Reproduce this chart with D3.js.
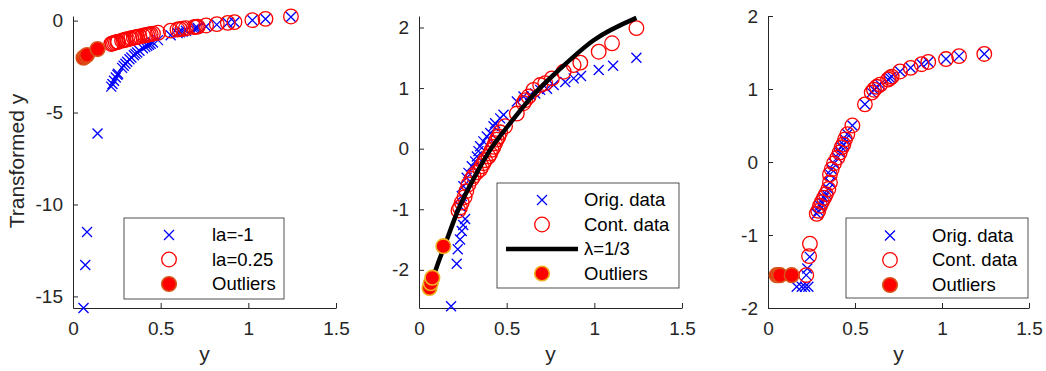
<!doctype html>
<html lang="en">
<head>
  <meta charset="utf-8">
  <title>Box-Cox panels - D3</title>
  <style>
    body { margin: 0; background: #fff; }
    svg { display: block; font-family: "Liberation Sans", Arial, sans-serif; }
  </style>
</head>
<body>
  <svg id="chart"></svg>

  <script src="https://cdn.jsdelivr.net/npm/d3@7"></script>
  <script>
    // ---- data: [y, transformed y] ----
    // panel 1: contaminated data, la = -1
    var p1LaM1 = [[1.243,0.195],[1.098,0.089],[1.023,0.022],[0.921,-0.086],[0.883,-0.133],[0.82,-0.22],
      [0.759,-0.318],[0.711,-0.406],[0.701,-0.427],[0.69,-0.449],[0.644,-0.553],[0.625,-0.6],[0.609,-0.642],
      [0.596,-0.678],[0.557,-0.795],[0.485,-1.062],[0.456,-1.193],[0.443,-1.257],[0.433,-1.309],[0.423,-1.364],
      [0.412,-1.427],[0.399,-1.506],[0.379,-1.639],[0.366,-1.732],[0.356,-1.809],[0.347,-1.882],[0.333,-2.003],
      [0.322,-2.106],[0.309,-2.236],[0.299,-2.344],[0.289,-2.46],[0.28,-2.571],[0.257,-2.891],[0.253,-2.953],
      [0.244,-3.098],[0.234,-3.274],[0.225,-3.444],[0.218,-3.59],
      [0.14,-6.14],[0.08,-11.5],[0.07,-13.29],[0.06,-15.63]];
    // panel 1: la = 0.25
    var p1La025 = [[1.243,0.224],[1.098,0.095],[1.023,0.023],[0.921,-0.082],[0.883,-0.122],[0.82,-0.194],
      [0.759,-0.266],[0.711,-0.327],[0.701,-0.34],[0.69,-0.354],[0.644,-0.417],[0.625,-0.444],[0.609,-0.466],
      [0.596,-0.486],[0.557,-0.544],[0.485,-0.662],[0.456,-0.713],[0.443,-0.737],[0.433,-0.755],[0.423,-0.774],
      [0.412,-0.795],[0.399,-0.821],[0.379,-0.862],[0.366,-0.889],[0.356,-0.91],[0.347,-0.93],[0.333,-0.962],
      [0.322,-0.987],[0.309,-1.018],[0.299,-1.042],[0.289,-1.067],[0.28,-1.09],[0.257,-1.152],[0.253,-1.163],
      [0.244,-1.189],[0.234,-1.218],[0.225,-1.245],[0.218,-1.27]];
    var p1Outliers = [[0.06,-2.02],[0.07,-1.94],[0.08,-1.87],[0.14,-1.55]];

    // panel 2
    var p2Orig = [[1.24,1.5],[1.107,1.37],[1.025,1.3],[0.924,1.2],[0.882,1.16],[0.834,1.1],[0.768,1.05],
      [0.73,0.99],[0.691,0.97],[0.663,0.91],[0.634,0.89],[0.596,0.86],[0.558,0.78],[0.482,0.56],[0.463,0.5],
      [0.434,0.42],[0.425,0.37],[0.406,0.26],[0.387,0.2],[0.367,0.12],[0.349,0.04],[0.339,-0.04],[0.33,-0.13],
      [0.32,-0.21],[0.301,-0.29],[0.282,-0.4],[0.272,-0.48],[0.253,-0.62],[0.244,-0.78],[0.234,-0.95],
      [0.263,-1.16],[0.252,-1.26],[0.244,-1.36],[0.234,-1.5],[0.221,-1.66],[0.215,-1.9],[0.183,-2.6]];
    var p2Cont = [[1.24,1.99],[1.101,1.74],[1.025,1.6],[0.92,1.42],[0.882,1.38],[0.825,1.27],[0.758,1.16],
      [0.72,1.08],[0.691,1.05],[0.653,0.97],[0.625,0.86],[0.606,0.8],[0.596,0.75],[0.558,0.58],[0.491,0.37],
      [0.463,0.27],[0.453,0.2],[0.443,0.15],[0.434,0.09],[0.425,0.03],[0.415,-0.02],[0.406,-0.08],[0.396,-0.13],
      [0.377,-0.19],[0.368,-0.24],[0.358,-0.29],[0.349,-0.34],[0.33,-0.39],[0.311,-0.45],[0.301,-0.5],
      [0.282,-0.59],[0.27,-0.7],[0.26,-0.8],[0.244,-0.89],[0.234,-0.97],[0.225,-1.02]];
    var p2Fit = [[0.063,-2.31],[0.072,-2.2],[0.1,-1.96],[0.145,-1.61],[0.225,-1.0],[0.32,-0.45],[0.406,-0.02],
      [0.52,0.42],[0.653,0.89],[0.806,1.32],[0.996,1.79],[1.24,2.16]];
    var p2Outliers = [[0.06,-2.3],[0.067,-2.22],[0.076,-2.13],[0.139,-1.61]];

    // panel 3
    var p3Orig = [[1.243,1.48],[1.098,1.45],[1.023,1.41],[0.921,1.37],[0.883,1.34],[0.82,1.29],[0.759,1.24],
      [0.711,1.17],[0.701,1.15],[0.69,1.13],[0.644,1.06],[0.625,1.03],[0.609,0.99],[0.596,0.95],[0.557,0.79],
      [0.485,0.5],[0.456,0.38],[0.443,0.31],[0.433,0.24],[0.423,0.2],[0.412,0.13],[0.399,0.06],[0.379,-0.02],
      [0.366,-0.1],[0.356,-0.17],[0.356,-0.28],[0.347,-0.37],[0.333,-0.44],[0.322,-0.49],[0.309,-0.55],
      [0.299,-0.6],[0.289,-0.67],[0.28,-0.71],[0.24,-1.3],[0.226,-1.46],[0.22,-1.55],
      [0.165,-1.71],[0.194,-1.71],[0.213,-1.71],[0.232,-1.71]];
    var p3Cont = [[1.243,1.48],[1.098,1.45],[1.023,1.41],[0.921,1.37],[0.883,1.34],[0.82,1.29],[0.759,1.24],
      [0.711,1.17],[0.701,1.15],[0.69,1.13],[0.644,1.06],[0.625,1.03],[0.609,0.99],[0.596,0.95],[0.557,0.79],
      [0.485,0.5],[0.456,0.38],[0.443,0.31],[0.433,0.24],[0.423,0.2],[0.412,0.13],[0.399,0.06],[0.379,-0.02],
      [0.366,-0.1],[0.356,-0.17],[0.356,-0.28],[0.347,-0.37],[0.333,-0.44],[0.322,-0.49],[0.309,-0.55],
      [0.299,-0.6],[0.289,-0.67],[0.28,-0.71],[0.241,-1.12],[0.236,-1.29],[0.22,-1.55]];
    var p3Outliers = [[0.05,-1.55],[0.06,-1.55],[0.069,-1.55],[0.136,-1.55]];

    var xTicks = [0, 0.5, 1, 1.5];
    var p1YTicks = [-15, -10, -5, 0];
    var p23YTicks = [-2, -1, 0, 1, 2];

    // ---- canvas ----
    var width = 1046, height = 371;
    var axisColor = '#262626';
    var font = '"Liberation Sans", Arial, sans-serif';
    var svg = d3.select('#chart').attr('width', width).attr('height', height);

    function xMark(g, pts, x, y) {
      var s = 5;
      g.selectAll(null).data(pts).enter().append('path')
        .attr('d', function (d) {
          var cx = x(d[0]), cy = y(d[1]);
          return 'M' + (cx - s) + ',' + (cy - s) + 'L' + (cx + s) + ',' + (cy + s) +
                 'M' + (cx - s) + ',' + (cy + s) + 'L' + (cx + s) + ',' + (cy - s);
        })
        .attr('stroke', '#0000ff').attr('stroke-width', 1.3).attr('fill', 'none');
    }
    function circleMark(g, pts, x, y) {
      g.selectAll(null).data(pts).enter().append('circle')
        .attr('cx', function (d) { return x(d[0]); })
        .attr('cy', function (d) { return y(d[1]); })
        .attr('r', 7.3)
        .attr('fill', 'none').attr('stroke', '#ff0000').attr('stroke-width', 1.3);
    }
    function filledMark(g, pts, x, y, edge) {
      g.selectAll(null).data(pts).enter().append('circle')
        .attr('cx', function (d) { return x(d[0]); })
        .attr('cy', function (d) { return y(d[1]); })
        .attr('r', 7.3)
        .attr('fill', '#ff0000').attr('stroke', edge).attr('stroke-width', 1.6);
    }

    function drawPanel(cfg) {
      var x = d3.scaleLinear().domain([0, 1.5]).range(cfg.xr);
      var y = d3.scaleLinear().domain(cfg.yd).range([308, 16]);
      var g = svg.append('g');

      // axes (box off, ticks inward)
      var ax = g.append('g').attr('transform', 'translate(0,308)')
        .call(d3.axisBottom(x).tickValues(xTicks).tickSizeInner(-5).tickSizeOuter(0)
          .tickPadding(14).tickFormat(function (d) { return String(d); }));
      var ay = g.append('g').attr('transform', 'translate(' + cfg.xr[0] + ',0)')
        .call(d3.axisLeft(y).tickValues(cfg.yTicks).tickSizeInner(-5).tickSizeOuter(0)
          .tickPadding(10).tickFormat(function (d) { return String(d); }));
      [ax, ay].forEach(function (a) {
        a.attr('font-family', font).attr('font-size', 19);
        a.selectAll('path,line').attr('stroke', axisColor);
        a.selectAll('text').attr('fill', axisColor);
      });

      g.append('text').text('y')
        .attr('x', (cfg.xr[0] + cfg.xr[1]) / 2).attr('y', 361)
        .attr('text-anchor', 'middle').attr('font-size', 21).attr('fill', axisColor);

      // marks
      var m = g.append('g');
      cfg.series.forEach(function (s) {
        if (s.kind === 'x') xMark(m, s.data, x, y);
        else if (s.kind === 'o') circleMark(m, s.data, x, y);
        else if (s.kind === 'line') {
          m.append('path').datum(s.data)
            .attr('fill', 'none').attr('stroke', '#000').attr('stroke-width', 4.5)
            .attr('d', d3.line().x(function (d) { return x(d[0]); })
              .y(function (d) { return y(d[1]); }).curve(d3.curveMonotoneX));
        }
        else filledMark(m, s.data, x, y, s.edge);
      });

      // legend
      var L = cfg.legend;
      var lg = g.append('g');
      lg.append('rect').attr('x', L.x0).attr('y', L.y0)
        .attr('width', L.x1 - L.x0).attr('height', L.y1 - L.y0)
        .attr('fill', '#fff').attr('stroke', axisColor).attr('stroke-width', 0.8);
      cfg.series.forEach(function (s, i) {
        var ry = L.rows[i];
        var one = [[0, 0]];
        var fx = function () { return L.mx; }, fy = function () { return ry; };
        if (s.kind === 'x') xMark(lg, one, fx, fy);
        else if (s.kind === 'o') circleMark(lg, one, fx, fy);
        else if (s.kind === 'line') {
          lg.append('line').attr('x1', L.lx[0]).attr('x2', L.lx[1]).attr('y1', ry).attr('y2', ry)
            .attr('stroke', '#000').attr('stroke-width', 4.5);
        }
        else filledMark(lg, one, fx, fy, s.edge);
        lg.append('text').text(s.name).attr('x', L.tx).attr('y', ry)
          .attr('dy', '0.35em').attr('font-size', 18.5).attr('fill', '#000');
      });
    }

    drawPanel({
      xr: [73, 336], yd: [-15.63, 0.25], yTicks: p1YTicks,
      series: [
        { kind: 'x', name: 'la=-1', data: p1LaM1 },
        { kind: 'o', name: 'la=0.25', data: p1La025 },
        { kind: 'f', name: 'Outliers', data: p1Outliers, edge: '#d95319' }
      ],
      legend: { x0: 124, x1: 284, y0: 218, y1: 299, rows: [235, 259.5, 284], mx: 169, tx: 212 }
    });

    drawPanel({
      xr: [419, 682], yd: [-2.63, 2.19], yTicks: p23YTicks,
      series: [
        { kind: 'x', name: 'Orig. data', data: p2Orig },
        { kind: 'o', name: 'Cont. data', data: p2Cont },
        { kind: 'line', name: 'λ=1/3', data: p2Fit },
        { kind: 'f', name: 'Outliers', data: p2Outliers, edge: '#edb120' }
      ],
      legend: { x0: 497, x1: 679, y0: 183, y1: 288, rows: [200, 224.5, 249, 273.5], mx: 542, tx: 584, lx: [506, 578] }
    });

    drawPanel({
      xr: [768, 1029], yd: [-2, 2], yTicks: p23YTicks,
      series: [
        { kind: 'x', name: 'Orig. data', data: p3Orig },
        { kind: 'o', name: 'Cont. data', data: p3Cont },
        { kind: 'f', name: 'Outliers', data: p3Outliers, edge: '#d95319' }
      ],
      legend: { x0: 846, x1: 1028, y0: 218, y1: 298, rows: [235.5, 260, 285], mx: 890, tx: 932 }
    });

    // shared y label
    svg.append('text').text('Transformed y')
      .attr('transform', 'translate(24,161) rotate(-90)')
      .attr('text-anchor', 'middle').attr('font-family', font)
      .attr('font-size', 21).attr('fill', axisColor);
  </script>
</body>
</html>
